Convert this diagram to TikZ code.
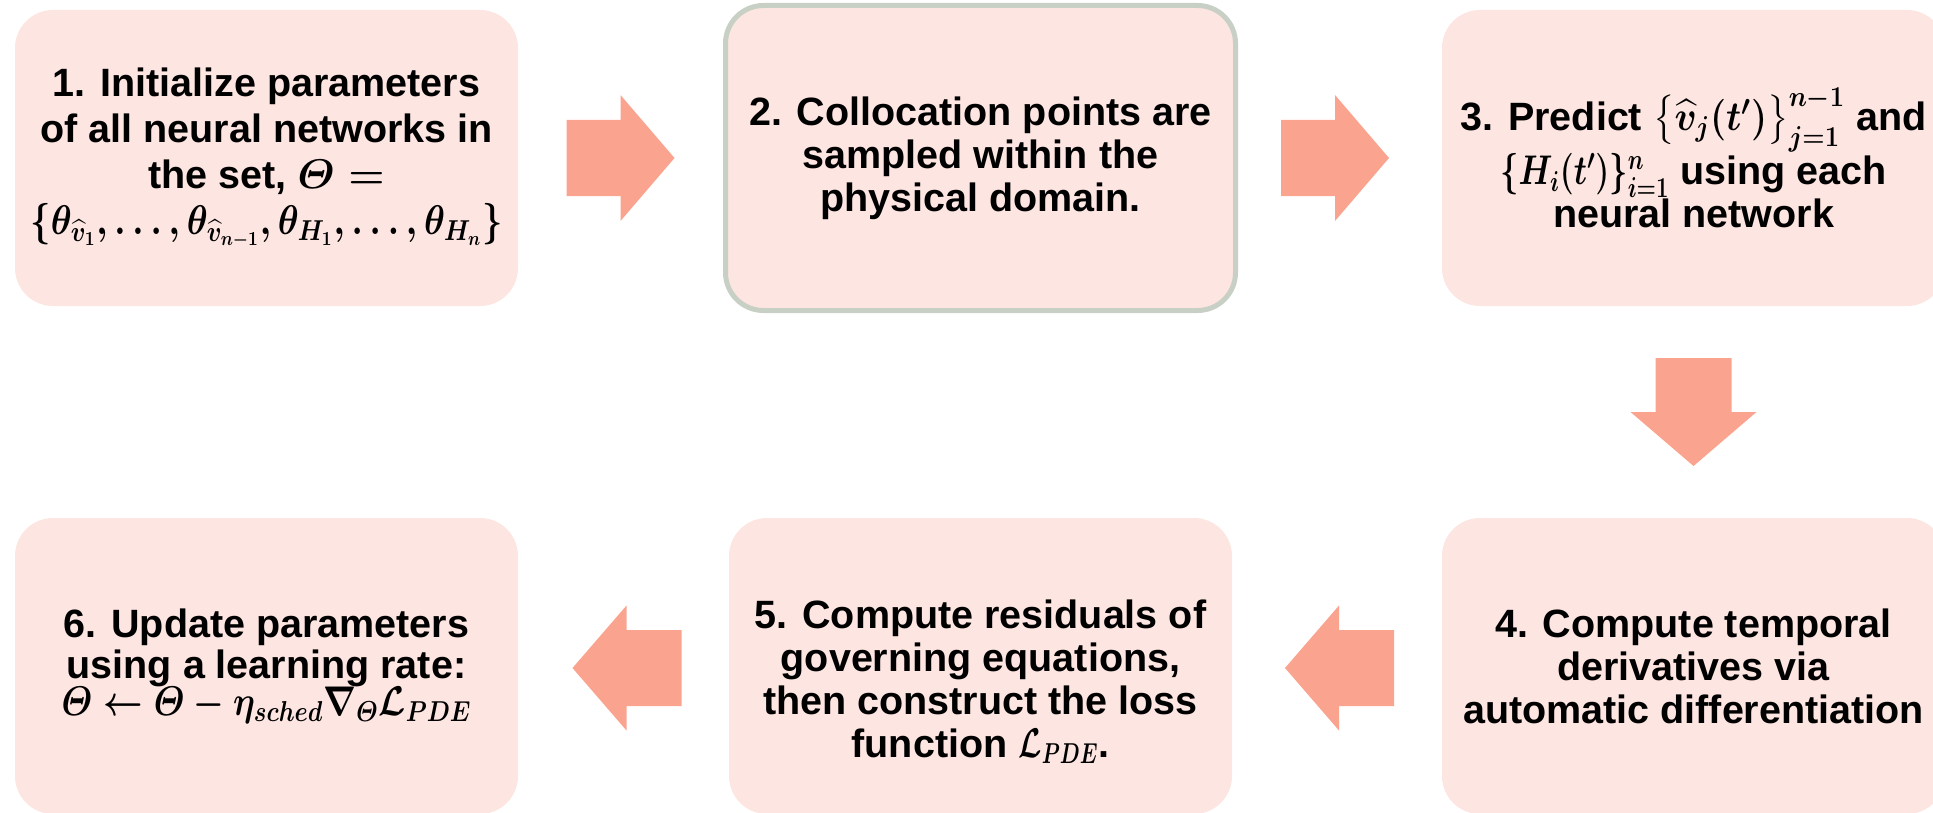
\documentclass[tikz,border=0pt]{standalone}
\usepackage{amsmath}
\usepackage{graphicx}
\usepackage[no-math]{fontspec}
\setmainfont{Liberation Sans}
\usetikzlibrary{calc}
\definecolor{boxfill}{RGB}{253,229,225}
\definecolor{arrowfill}{RGB}{250,163,143}
\definecolor{boxline}{RGB}{200,208,198}
\newcommand\fitmath[2]{\resizebox{#1}{\height}{$#2$}}
\tikzset{
  stepbox/.style={rectangle, rounded corners=19pt, fill=boxfill, minimum width=251.5pt,
    minimum height=148pt, align=center, inner sep=0pt, outer sep=0pt,
    font=\fontsize{19.75}{21.5}\selectfont\bfseries\boldmath},
  framedbox/.style={stepbox, draw=boxline, line width=2.5pt, minimum width=255pt,
    minimum height=152.5pt, outer sep=1.25pt},
  blockarrow/.style={fill=arrowfill, draw=none},
}
\begin{document}
\begin{tikzpicture}[x=0.5pt,y=-0.5pt]
\useasboundingbox (0,0) rectangle (1933,813);
\clip (0,0) rectangle (1933,813);
% boxes
\node[stepbox] (b1) at (266.5,158) {1. Initialize parameters\\[1.5pt] of all neural networks in\\[1.5pt] the set, $\varTheta =$\\[1.5pt]
  \fitmath{236pt}{\{\theta_{\widehat{v}_1},\ldots,\theta_{\widehat{v}_{n-1}},\theta_{H_1},\ldots,\theta_{H_n}\}}};
\node[framedbox] (b2) at (980.5,158) {2. Collocation points are\\ sampled within the\\ physical domain.};
\node[stepbox] (b3) at (1693.5,158) {3. Predict \fitmath{96pt}{\bigl\{\widehat{v}_j(t')\bigr\}_{j=1}^{n-1}} and\\
  \fitmath{84.5pt}{\{H_i(t')\}_{i=1}^{n}} using each\\ neural network};
\node[stepbox] (b4) at (1693.5,666) {4. Compute temporal\\ derivatives via\\ automatic differentiation};
\node[stepbox] (b5) at (980.5,666) {\rule{0pt}{30pt}5. Compute residuals of\\ governing equations,\\ then construct the loss\\ function \fitmath{40pt}{\mathcal{L}_{PDE}}.};
\node[stepbox] (b6) at (266.5,666) {6. Update parameters\\[-1pt] using a learning rate:\\[-3pt]
  \fitmath{205pt}{\varTheta \leftarrow \varTheta - \eta_{sched}\nabla_{\varTheta}\mathcal{L}_{PDE}}};
% arrow anchor points
\coordinate (m12) at ($(b1.east)!0.5!(b2.west)$);
\coordinate (m23) at ($(b2.east)!0.5!(b3.west)+(-5,0)$);
\coordinate (m34) at ($(b3.south)!0.5!(b4.north)$);
\coordinate (m45) at ($(b5.east)!0.5!(b4.west)+(2,2)$);
\coordinate (m56) at ($(b6.east)!0.5!(b5.west)+(3,2)$);
% right arrows
\foreach \m in {m12,m23}{
  \fill[blockarrow] ($(\m)+(-54,-38)$) -- ($(\m)+(0,-38)$) -- ($(\m)+(0,-63)$) -- ($(\m)+(54,0)$)
    -- ($(\m)+(0,63)$) -- ($(\m)+(0,38)$) -- ($(\m)+(-54,38)$) -- cycle;
}
% down arrow
\fill[blockarrow] ($(m34)+(-38,-54)$) -- ($(m34)+(38,-54)$) -- ($(m34)+(38,0)$) -- ($(m34)+(63,0)$)
  -- ($(m34)+(0,54)$) -- ($(m34)+(-63,0)$) -- ($(m34)+(-38,0)$) -- cycle;
% left arrows
\foreach \m in {m45,m56}{
  \fill[blockarrow] ($(\m)+(55,-38)$) -- ($(\m)+(0,-38)$) -- ($(\m)+(0,-62.5)$) -- ($(\m)+(-54,0)$)
    -- ($(\m)+(0,62.5)$) -- ($(\m)+(0,38)$) -- ($(\m)+(55,38)$) -- cycle;
}
\end{tikzpicture}
\end{document}
